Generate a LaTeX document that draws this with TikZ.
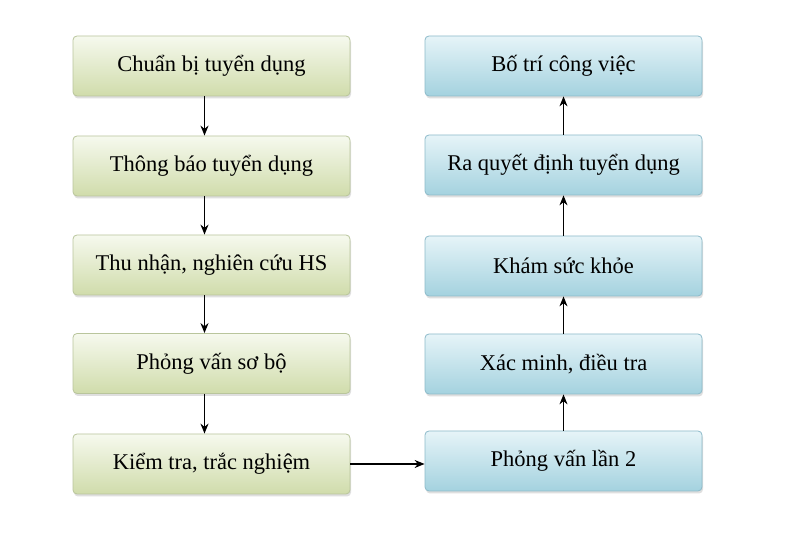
\documentclass[tikz,border=0pt]{standalone}
\usepackage{fontspec}
\setmainfont{Liberation Serif}
\usetikzlibrary{arrows.meta,shadows}
\definecolor{greentop}{HTML}{F6F9EE}
\definecolor{greenbot}{HTML}{D0DCAB}
\definecolor{greenline}{HTML}{B9C59C}
\definecolor{bluetop}{HTML}{E6F4F8}
\definecolor{bluebot}{HTML}{A4D2DF}
\definecolor{blueline}{HTML}{8DBBCA}
\tikzset{
	stepbox/.style={rectangle, rounded corners=4pt, minimum width=277pt, minimum height=60pt,
		line width=0.8pt, font=\fontsize{22.5}{26}\selectfont,
		drop shadow={shadow xshift=1pt, shadow yshift=-2.5pt, opacity=0.25}},
	greenbox/.style={stepbox, draw=greenline, top color=greentop, bottom color=greenbot},
	bluebox/.style={stepbox, draw=blueline, top color=bluetop, bottom color=bluebot},
	flow/.style={-{Stealth[length=10pt,width=8pt]}, line width=1.2pt, black}
}

\begin{document}
\begin{tikzpicture}[x=1pt,y=1pt]
		%%%%% START %%%%%
		
		\useasboundingbox[fill=white] (0, 0) rectangle (812, 537);
		
		\node[greenbox] (chuanbi) at (211.5, 471) {Chuẩn bị tuyển dụng};
		\node[greenbox] (thongbao) at (211.5, 371) {Thông báo tuyển dụng};
		\node[greenbox] (thunhan) at (211.5, 272) {Thu nhận, nghiên cứu HS};
		\node[greenbox] (sobo) at (211.5, 173.5) {Phỏng vấn sơ bộ};
		\node[greenbox] (kiemtra) at (211.5, 73) {Kiểm tra, trắc nghiệm};
		
		\node[bluebox] (botri) at (563.5, 471) {Bố trí công việc};
		\node[bluebox] (quyetdinh) at (563.5, 372) {Ra quyết định tuyển dụng};
		\node[bluebox] (khamsk) at (563.5, 271) {Khám sức khỏe};
		\node[bluebox] (xacminh) at (563.5, 173) {Xác minh, điều tra};
		\node[bluebox] (lan2) at (563.5, 76) {Phỏng vấn lần 2};
		
		\draw[flow] ([xshift=-7pt]chuanbi.south) -- ([xshift=-7pt]thongbao.north);
		\draw[flow] ([xshift=-7pt]thongbao.south) -- ([xshift=-7pt]thunhan.north);
		\draw[flow] ([xshift=-7pt]thunhan.south) -- ([xshift=-7pt]sobo.north);
		\draw[flow] ([xshift=-7pt]sobo.south) -- ([xshift=-7pt]kiemtra.north);
		
		\draw[flow] (kiemtra.east) -- (kiemtra.east -| lan2.west);
		
		\draw[flow] (lan2) -- (xacminh);
		\draw[flow] (xacminh) -- (khamsk);
		\draw[flow] (khamsk) -- (quyetdinh);
		\draw[flow] (quyetdinh) -- (botri);
		
		%%%%% END %%%%%
\end{tikzpicture}
\end{document}
